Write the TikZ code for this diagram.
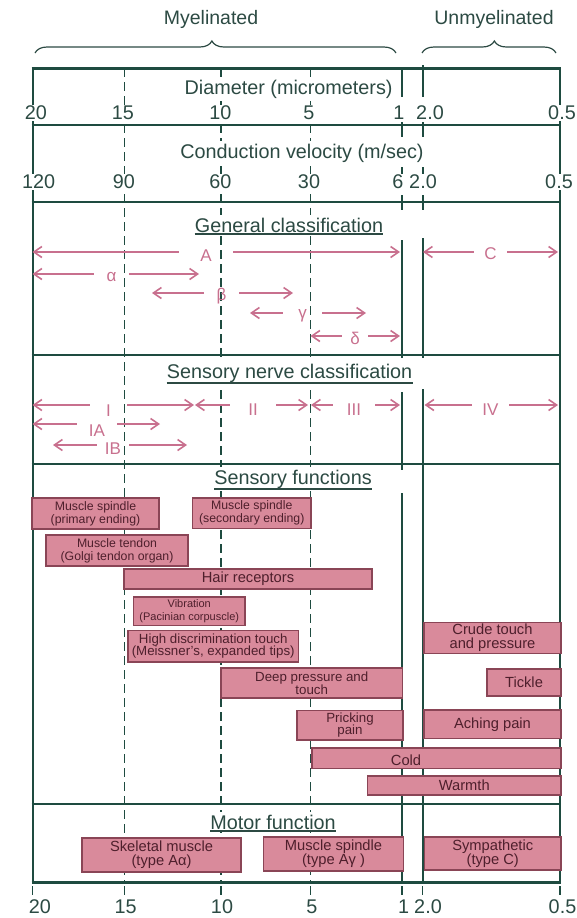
\documentclass[tikz,border=0pt]{standalone}
\usepackage{fontspec}
\setmainfont{Liberation Sans}
\usetikzlibrary{arrows.meta,decorations.pathreplacing}

\definecolor{rulegreen}{HTML}{1E4B40}
\definecolor{inkgreen}{HTML}{2C4A43}
\definecolor{rose}{HTML}{C8708E}
\definecolor{boxfill}{HTML}{D98A9B}
\definecolor{boxedge}{HTML}{8A4556}
\definecolor{boxink}{HTML}{4E1F2C}

\tikzset{
	rule/.style={rulegreen, line width=2pt},
	thickrule/.style={rulegreen, line width=3pt},
	gridline/.style={rulegreen, line width=1.7pt, dash pattern=on 9pt off 5pt},
	num/.style={inkgreen, fill=white, inner sep=0.5pt, font=\fontsize{19.8}{20}\selectfont},
	head/.style={inkgreen, fill=white, inner xsep=0pt, inner ysep=3pt, font=\fontsize{19.8}{20}\selectfont},
	uline/.style={inkgreen, line width=1.5pt},
	cls/.style={rose, inner sep=0pt, font=\fontsize{17}{17}\selectfont},
	clsarr/.style={rose, line width=1.6pt, -{Straight Barb[length=8pt,width=11pt]}},
	fbox/.style={draw=boxedge, fill=boxfill, line width=1.2pt, inner sep=0pt, align=center, text=boxink},
	boxbig/.style={font=\fontsize{14.7}{14}\selectfont},
	boxmid/.style={font=\fontsize{13.3}{12.5}\selectfont},
	boxsmall/.style={font=\fontsize{12.3}{13}\selectfont},
	boxtiny/.style={font=\fontsize{11}{12.5}\selectfont},
}

\begin{document}
\begin{tikzpicture}[x=1pt, y=-1pt]
	\useasboundingbox (0,0) rectangle (576,918);

	% fibre groups
	\node[inkgreen, font=\fontsize{19.5}{20}\selectfont] (myel) at (211,19) {Myelinated};
	\node[inkgreen, font=\fontsize{19.5}{20}\selectfont] (unmyel) at (494,19) {Unmyelinated};
	\draw[inkgreen, line width=1.2pt, decorate, decoration={brace, amplitude=12pt, aspect=0.49}] (35,53) -- (396,53);
	\draw[inkgreen, line width=1.2pt, decorate, decoration={brace, amplitude=12pt, aspect=0.54}] (422,53) -- (556,53);

	% dashed lines at 15, 10 and 5
	\foreach \x in {124.5,221,310.5}
		\draw[gridline] (\x,68) -- (\x,882);

	% frame and the lines at 1 and 2.0
	\draw[rule] (32.5,68) -- (32.5,882);
	\draw[rule] (560,68) -- (560,882);
	\foreach \a/\b in {68/97, 122/137, 167/174, 195/210, 240/358, 392/470, 493/882}
		\draw[rule] (402,\a) -- (402,\b);
	\foreach \a/\b in {65/97, 122/137, 167/174, 195/210, 238/358, 389/882}
		\draw[rule] (422.5,\a) -- (422.5,\b);
	\foreach \x in {32.5,124.5,221,310.5,402,422.5,560}
		\draw[rulegreen, line width=1.5pt] (\x,886) -- (\x,895);

	\draw[thickrule] (31.5,68.5) -- (561,68.5);
	\foreach \y in {125,202,355,464,804}
		\draw[rule] (31.5,\y) -- (561,\y);
	\draw[thickrule] (31.5,882) -- (561,882);

	% scales
	\node[head] (diam) at (288.6,89) {Diameter (micrometers)};
	\foreach \x/\t [count=\i] in {36/20,123/15,220.5/10,309/5,399/1,430/2.0,562/0.5}
		\node[num] (dia\i) at (\x,113) {\t};
	\node[head] (vel) at (302,153) {Conduction velocity (m/sec)};
	\foreach \x/\t [count=\i] in {38.6/120,124/90,220.5/60,309/30,398/6,423/2.0,559/0.5}
		\node[num] (vel\i) at (\x,182) {\t};
	\foreach \x/\t [count=\i] in {40/20,125.7/15,222/10,312/5,403.7/1,428/2.0,562.5/0.5}
		\node[num] (bot\i) at (\x,906.5) {\t};

	% section headings
	\node[head] (gen) at (289,225) {General classification};
	\draw[uline] ([yshift=-2pt]gen.base west) -- ([yshift=-2pt]gen.base east);
	\node[head] (sens) at (289.6,373) {Sensory nerve classification};
	\draw[uline] ([yshift=-5pt]sens.base west) -- ([yshift=-5pt]sens.base east);
	\node[head] (func) at (293,479) {Sensory functions};
	\draw[uline] ([yshift=-5pt]func.base west) -- ([yshift=-5pt]func.base east);
	\node[head] (motor) at (273,822) {Motor function};
	\draw[uline] ([yshift=-2pt]motor.base west) -- ([yshift=-2pt]motor.base east);

	% fibre classes
	\foreach \n/\t/\x/\ly/\y/\w/\l/\r in {
		A/A/206/256/252/54/32.5/400,
		C/C/490.5/254/252/33/423/558,
		alpha/α/111.5/277/274/35/32.5/199,
		beta/β/221.5/296/293/35/152/293,
		gamma/γ/302.5/316/313/39/250/366,
		delta/δ/355/338/336/26/310.5/400,
		I/I/108.5/411/405/37/32.5/194,
		II/II/253/410/405/46/195/308,
		III/III/354/410/405/42/311/400,
		IV/IV/490.5/410/405/37/424.5/558,
		IA/IA/97/431/424/40/32.5/160,
		IB/IB/113/449/445/32/53/187}
	{
		\node[cls, minimum width=\w pt] (\n) at (\x,\ly) {\t};
		\coordinate (\n-l) at (\l,\y);
		\coordinate (\n-r) at (\r,\y);
		\draw[clsarr] (\n.west |- \n-l) -- (\n-l);
		\draw[clsarr] (\n.east |- \n-r) -- (\n-r);
	}

	% sensory functions
	\node[fbox, boxsmall, minimum width=127pt, minimum height=31pt] (spinA) at (95.5,513.5) {Muscle spindle\\(primary ending)};
	\node[fbox, boxsmall, minimum width=118.5pt, minimum height=30.5pt] (spinB) at (251.75,513.25) {Muscle spindle\\(secondary ending)};
	\node[fbox, boxsmall, minimum width=142pt, minimum height=31pt] (tendon) at (117,550.5) {Muscle tendon\\(Golgi tendon organ)};
	\node[fbox, boxbig, minimum width=248pt, minimum height=20pt] (hair) at (248,579) {Hair receptors};
	\node[fbox, boxtiny, minimum width=111.5pt, minimum height=28.5pt] (vibr) at (189.25,611.25) {Vibration\\(Pacinian corpuscle)};
	\node[fbox, boxmid, minimum width=170.5pt, minimum height=31.5pt] (meiss) at (213.25,646.25) {High discrimination touch\\(Meissner's, expanded tips)};
	\node[fbox, boxbig, minimum width=137pt, minimum height=31pt] (crude) at (492.5,638) {Crude touch\\and pressure};
	\node[fbox, boxbig, minimum width=74pt, minimum height=27pt] (tickle) at (524,682.5) {Tickle};
	\node[fbox, boxmid, minimum width=181.5pt, minimum height=30pt] (deep) at (311.75,683) {Deep pressure and\\touch};
	\node[fbox, boxmid, minimum width=106pt, minimum height=29.5pt] (prick) at (350,725.25) {Pricking\\pain};
	\node[fbox, boxbig, minimum width=137pt, minimum height=28.5pt] (aching) at (492.5,724.25) {Aching pain};
	\node[fbox, minimum width=249pt, minimum height=20.5pt] (cold) at (436.5,758.25) {};
	\node[boxbig, text=boxink] (coldtxt) at (406,760) {Cold};
	\node[fbox, boxbig, minimum width=193.5pt, minimum height=19pt] (warm) at (464.25,785.5) {Warmth};

	% motor function
	\node[fbox, boxbig, minimum width=159pt, minimum height=34pt] (skel) at (161.5,855) {Skeletal muscle\\(type Aα)};
	\node[fbox, boxbig, minimum width=140pt, minimum height=34pt] (spinG) at (333.5,854) {Muscle spindle\\(type Aγ )};
	\node[fbox, boxbig, minimum width=136.5pt, minimum height=33pt] (symp) at (492.75,853.5) {Sympathetic\\(type C)};
\end{tikzpicture}
\end{document}
